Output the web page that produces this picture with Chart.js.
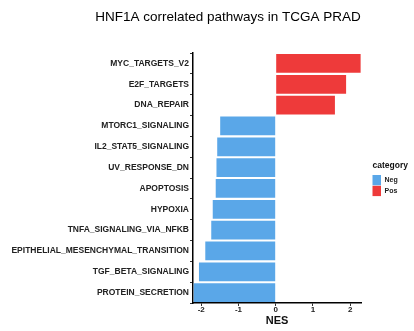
<!DOCTYPE html>
<html>
<head>
<meta charset="utf-8">
<script src="https://cdn.jsdelivr.net/npm/chart.js@4"></script>
<style>
  html, body { margin: 0; padding: 0; background: #fff; }
  #wrap { position: relative; width: 414px; height: 331px; }
</style>
</head>
<body>
<div id="wrap"><canvas id="c" width="414" height="331"></canvas></div>
<script>
// pathways, top to bottom
const pathways = [
  'MYC_TARGETS_V2', 'E2F_TARGETS', 'DNA_REPAIR', 'MTORC1_SIGNALING',
  'IL2_STAT5_SIGNALING', 'UV_RESPONSE_DN', 'APOPTOSIS', 'HYPOXIA',
  'TNFA_SIGNALING_VIA_NFKB', 'EPITHELIAL_MESENCHYMAL_TRANSITION',
  'TGF_BETA_SIGNALING', 'PROTEIN_SECRETION'
];
const nes = [2.28, 1.89, 1.59, -1.49, -1.57, -1.59, -1.61, -1.69, -1.73, -1.89, -2.06, -2.2];
const category = ['Pos', 'Pos', 'Pos', 'Neg', 'Neg', 'Neg', 'Neg', 'Neg', 'Neg', 'Neg', 'Neg', 'Neg'];
const xTicks = [-2, -1, 0, 1, 2];
const categories = ['Neg', 'Pos'];
const catColors = { Neg: '#5AA7E8', Pos: '#EE3A3A' };

const FONT = '"Liberation Sans", Arial, sans-serif';

// title + legend drawn on the canvas
const extras = {
  id: 'extras',
  afterDraw(chart) {
    const ctx = chart.ctx;
    ctx.save();
    ctx.fillStyle = '#000';
    ctx.font = '13.5px ' + FONT;
    ctx.textAlign = 'center';
    ctx.textBaseline = 'middle';
    ctx.fillText('HNF1A correlated pathways in TCGA PRAD', 228, 17.5);

    ctx.textAlign = 'left';
    ctx.font = 'bold 8.5px ' + FONT;
    ctx.fillStyle = '#111';
    ctx.fillText('category', 372.5, 166);
    categories.forEach((k, i) => {
      const y = 175 + i * 10.8;
      ctx.fillStyle = catColors[k];
      ctx.fillRect(372.5, y, 8.5, 10.3);
      ctx.fillStyle = '#222';
      ctx.font = 'bold 7px ' + FONT;
      ctx.fillText(k, 384.5, y + 5.4);
    });
    ctx.restore();
  }
};

new Chart(document.getElementById('c'), {
  type: 'bar',
  data: {
    labels: pathways,
    datasets: [{
      data: nes,
      backgroundColor: category.map(k => catColors[k]),
      borderWidth: 0,
      categoryPercentage: 1,
      barPercentage: 0.9
    }]
  },
  options: {
    indexAxis: 'y',
    responsive: false,
    animation: false,
    layout: { padding: { top: 53, right: 53, left: 0, bottom: 3.8 } },
    plugins: { legend: { display: false }, tooltip: { enabled: false } },
    scales: {
      x: {
        min: -2.22,
        max: 2.29,
        afterBuildTicks: s => { s.ticks = xTicks.map(v => ({ value: v })); },
        grid: { drawOnChartArea: false, tickLength: 3, color: '#333', lineWidth: 1 },
        border: { display: true, color: '#000', width: 1.5 },
        ticks: { color: '#222', padding: 0, font: { family: FONT, size: 8, weight: 'bold', lineHeight: 1 } },
        title: { display: true, text: 'NES', color: '#111', padding: { top: 0, bottom: 0 },
                 font: { family: FONT, size: 11, weight: 'bold' } }
      },
      y: {
        afterFit: s => { s.width = 193; },
        grid: { drawOnChartArea: false, tickLength: 3, color: '#333', lineWidth: 1 },
        border: { display: true, color: '#000', width: 1.5 },
        ticks: { color: '#222', padding: 1, autoSkip: false, font: { family: FONT, size: 8.5, weight: 'bold' } }
      }
    }
  },
  plugins: [extras]
});
</script>
</body>
</html>
